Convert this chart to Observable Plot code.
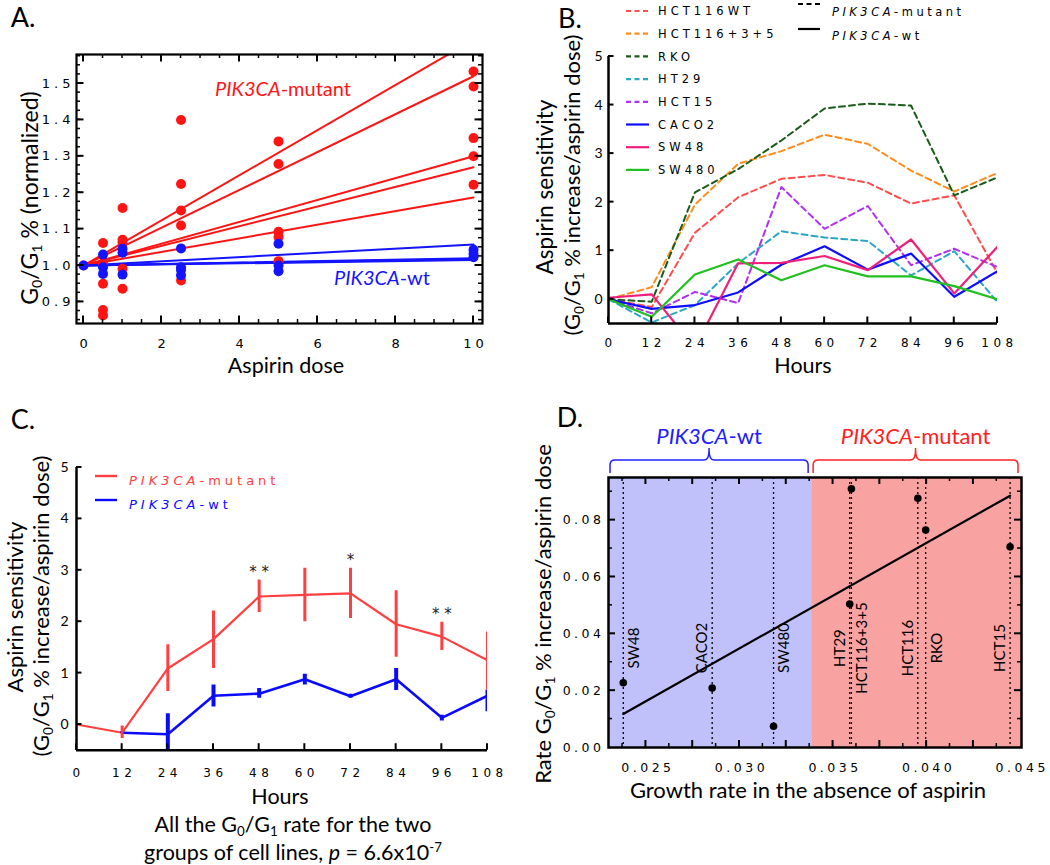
<!DOCTYPE html>
<html>
<head>
<meta charset="utf-8">
<script src="https://cdn.jsdelivr.net/npm/d3@7"></script>
<script src="https://cdn.jsdelivr.net/npm/@observablehq/plot@0.6"></script>
<style>
  html,body{margin:0;padding:0;background:#fff;}
  #root{position:relative;width:1050px;height:865px;overflow:hidden;font-family:Lato,"Open Sans",sans-serif;color:#000;}
  .panel{position:absolute;}
  .panel svg{overflow:visible;}
  .lbl{position:absolute;white-space:nowrap;line-height:1;transform-origin:center;}
  .lbl sub{font-size:0.62em;line-height:0;vertical-align:-0.3em;}
  .lbl sup{font-size:0.62em;line-height:0;vertical-align:0.65em;}
  #pA g[aria-label$="tick label"] text{letter-spacing:4px;}
  #pB g[aria-label="x-axis tick label"] text{letter-spacing:4.5px;}
  #pC g[aria-label="x-axis tick label"] text{letter-spacing:4.5px;}
  #pD g[aria-label$="tick label"] text{letter-spacing:3.5px;}
</style>
</head>
<body>
<div id="root"></div>
<script>
// ================= DATA =================
// Panel A: G0/G1 % (normalized) vs aspirin dose
const aDose = [0, 0.5, 1, 2.5, 5, 10];
const aMutantValues = [
  [1.0],
  [1.062, 1.006, 0.95, 0.878, 0.863],
  [1.158, 1.071, 1.062, 0.991, 0.936],
  [1.40, 1.224, 1.151, 1.11, 0.959],
  [1.341, 1.279, 1.093, 1.078, 1.012],
  [1.533, 1.492, 1.35, 1.30, 1.222]
];
const aWtValues = [
  [1.0],
  [1.03, 0.995, 0.977],
  [1.046, 1.035, 0.975],
  [1.047, 0.995, 0.988, 0.973],
  [1.06, 1.0, 0.984],
  [1.043, 1.032, 1.023]
];
const aMutantFitEnd = [1.62, 1.52, 1.30, 1.27, 1.187];
const aWtFitEnd = [1.058, 1.02, 1.018, 1.015];
const aXTicks = [0, 2, 4, 6, 8, 10];
const aYTicks = [0.9, 1.0, 1.1, 1.2, 1.3, 1.4, 1.5];

// Panel B: aspirin sensitivity per cell line over hours
const hours = [0, 12, 24, 36, 48, 60, 72, 84, 96, 108];
const bSeries = ["HCT116WT", "HCT116+3+5", "RKO", "HT29", "HCT15", "CACO2", "SW48", "SW480"];
const bMutant = [true, true, true, true, true, false, false, false];
const bColors = ["#ff4d4d", "#ff8c1a", "#1a5c1a", "#2aa6c8", "#b030f0", "#0d0dff", "#f0207a", "#20c020"];
const hct116wt  = [0, -0.16, 1.37, 2.10, 2.48, 2.56, 2.40, 1.97, 2.14, 0.53];
const hct116_35 = [0, 0.25, 1.95, 2.79, 3.05, 3.39, 3.20, 2.65, 2.22, 2.60];
const rko       = [0, -0.05, 2.20, 2.68, 3.27, 3.93, 4.03, 3.99, 2.14, 2.51];
const ht29      = [0, -0.48, -0.12, 0.74, 1.40, 1.27, 1.20, 0.49, 0.99, -0.06];
const hct15     = [0, -0.29, 0.15, -0.08, 2.31, 1.45, 1.92, 0.70, 1.04, 0.66];
const caco2     = [0, -0.20, -0.12, 0.14, 0.71, 1.09, 0.61, 0.94, 0.05, 0.58];
const sw48      = [0.03, 0.10, -1.0, 0.74, 0.75, 0.89, 0.60, 1.23, 0.12, 1.08];
const sw480     = [0, -0.36, 0.51, 0.82, 0.39, 0.70, 0.47, 0.47, 0.27, 0.0];
const bValues = [hct116wt, hct116_35, rko, ht29, hct15, caco2, sw48, sw480];
const bYTicks = [0, 1, 2, 3, 4, 5];

// Panel C: group means with error bars
const cMutMean = [0, -0.16, 1.09, 1.66, 2.49, 2.52, 2.55, 1.95, 1.71, 1.25];
const cMutLo   = [null, -0.27, 0.64, 1.09, 2.18, 2.00, 2.06, 1.31, 1.44, 0.67];
const cMutHi   = [null, -0.03, 1.55, 2.21, 2.81, 3.04, 3.04, 2.60, 1.99, 1.80];
const cWtMean  = [null, -0.16, -0.19, 0.56, 0.60, 0.88, 0.55, 0.88, 0.13, 0.56];
const cWtLo    = [null, -0.18, -0.60, 0.34, 0.51, 0.77, 0.51, 0.66, 0.07, 0.25];
const cWtHi    = [null, -0.14, 0.21, 0.77, 0.70, 0.98, 0.59, 1.09, 0.18, 0.67];
const cStarHours = [48, 72, 96];
const cStarText = ["* *", "*", "* *"];

// Panel D: rate vs growth rate
const dLines  = ["SW48", "CACO2", "SW480", "HT29", "HCT116+3+5", "HCT116", "RKO", "HCT15"];
const dGrowth = [0.02379, 0.02854, 0.03182, 0.03589, 0.03598, 0.03953, 0.03995, 0.04446];
const dRate   = [0.0228, 0.0209, 0.0075, 0.0505, 0.091, 0.0877, 0.0765, 0.0706];
const dLabelSide = [1, -1, 1, -1, 1, -1, 1, -1];
const dXTicks = [0.025, 0.030, 0.035, 0.040, 0.045];
const dYTicks = [0.00, 0.02, 0.04, 0.06, 0.08];

// ================= HELPERS =================
const root = document.getElementById("root");
function mount(id, left, top, node) {
  const d = document.createElement("div");
  d.className = "panel"; d.id = id;
  d.style.left = left + "px"; d.style.top = top + "px";
  d.appendChild(node); root.appendChild(d); return d;
}
function addLabel(html, cx, cy, opts = {}) {
  const {size = 20, rotate = 0, color = "#000", family = null} = opts;
  const el = document.createElement("div");
  el.className = "lbl";
  el.innerHTML = html;
  el.style.left = cx + "px";
  el.style.top = cy + "px";
  el.style.fontSize = size + "px";
  el.style.color = color;
  if (family) el.style.fontFamily = family;
  el.style.transform = `translate(-50%,-50%) rotate(${rotate}deg)`;
  root.appendChild(el);
}
// inward-pointing tick marks, positioned through the plot's own scales
function addTicks(plot, geom, anchor, ticks, size, sw = 1.5) {
  const svg = d3.select(plot);
  const left = geom.marginLeft, right = geom.width - geom.marginRight;
  const top = geom.marginTop, bottom = geom.height - geom.marginBottom;
  const horizontal = anchor === "bottom" || anchor === "top";
  const sc = plot.scale(horizontal ? "x" : "y");
  const g = svg.append("g").attr("stroke", "#000").attr("stroke-width", sw);
  ticks.forEach(t => {
    const p = sc.apply(t);
    if (anchor === "bottom") g.append("line").attr("x1", p).attr("x2", p).attr("y1", bottom).attr("y2", bottom - size);
    else if (anchor === "top") g.append("line").attr("x1", p).attr("x2", p).attr("y1", top).attr("y2", top + size);
    else if (anchor === "left") g.append("line").attr("y1", p).attr("y2", p).attr("x1", left).attr("x2", left + size);
    else g.append("line").attr("y1", p).attr("y2", p).attr("x1", right).attr("x2", right - size);
  });
}
const baseStyle = {fontFamily: "DejaVu Sans", fontSize: "12px", background: "transparent", color: "#000", overflow: "visible"};
function plotOpts(geom) {
  return {width: geom.width, height: geom.height, marginLeft: geom.marginLeft, marginRight: geom.marginRight,
    marginTop: geom.marginTop, marginBottom: geom.marginBottom, x: {domain: geom.x}, y: {domain: geom.y}, style: baseStyle};
}

// ================= PANEL A =================
const redA = "#ff1414", blueA = "#1414ff";
const aMutPts = aDose.flatMap((d, i) => aMutantValues[i].map(v => ({dose: d, v})));
const aWtPts = aDose.flatMap((d, i) => aWtValues[i].map(v => ({dose: d, v})));
const aStart = {dose: aDose[0], v: aMutantValues[0][0]};
const aEnd = aDose[aDose.length - 1];
const aMutFit = aMutantFitEnd.flatMap((v, k) => [{...aStart, k}, {dose: aEnd, v, k}]);
const aWtFit = aWtFitEnd.flatMap((v, k) => [{...aStart, k}, {dose: aEnd, v, k}]);
const aXMinor = d3.range(0.5, 10, 0.5);
const aYMinor = d3.range(0.85, 1.576, 0.025);
const geomA = {width: 520, height: 420, marginLeft: 76, marginRight: 38, marginTop: 54, marginBottom: 97, x: [-0.18, 10.23], y: [0.8407, 1.5797]};

const plotA = Plot.plot({
  ...plotOpts(geomA),
  marks: [
    Plot.line(aMutFit, {x: "dose", y: "v", z: "k", stroke: redA, strokeWidth: 2, clip: true}),
    Plot.line(aWtFit, {x: "dose", y: "v", z: "k", stroke: blueA, strokeWidth: 2, clip: true}),
    Plot.dot(aMutPts, {x: "dose", y: "v", r: 5, fill: redA}),
    Plot.dot(aWtPts, {x: "dose", y: "v", r: 5, fill: blueA}),
    Plot.frame({strokeWidth: 2.2}),
    Plot.axisX({ticks: aXTicks, tickSize: 0, tickPadding: 15, label: null, dx: 2, fontSize: 13}),
    Plot.axisY({ticks: aYTicks, tickSize: 0, tickPadding: 2, tickFormat: d3.format(".1f"), label: null, fontSize: 13})
  ]
});
for (const side of ["bottom", "top"]) { addTicks(plotA, geomA, side, aXTicks, 7.5, 2); addTicks(plotA, geomA, side, aXMinor, 4, 1.5); }
for (const side of ["left", "right"]) { addTicks(plotA, geomA, side, aYTicks, 7.5, 2); addTicks(plotA, geomA, side, aYMinor, 4, 1.5); }
mount("pA", 0, 0, plotA);

// ================= PANEL B =================
const bData = bSeries.flatMap((name, i) => hours.map((h, j) => ({name, h, v: bValues[i][j], mutant: bMutant[i]})));
const geomB = {width: 530, height: 420, marginLeft: 88, marginRight: 53, marginTop: 56, marginBottom: 97, x: [0, 108], y: [-0.5, 5]};
const plotB = Plot.plot({
  ...plotOpts(geomB),
  color: {domain: bSeries, range: bColors},
  marks: [
    Plot.line(bData.filter(d => d.mutant), {x: "h", y: "v", z: "name", stroke: "name", strokeWidth: 2, strokeDasharray: "6,4", clip: true}),
    Plot.line(bData.filter(d => !d.mutant), {x: "h", y: "v", z: "name", stroke: "name", strokeWidth: 2.2, clip: true}),
    Plot.ruleX([0], {strokeWidth: 2.5}),
    Plot.ruleY([-0.5], {x1: 0, x2: 108, strokeWidth: 2.5}),
    Plot.axisX({ticks: hours, tickSize: 0, tickPadding: 15, label: null, dx: 2, fontSize: 12}),
    Plot.axisY({ticks: bYTicks, tickSize: 0, tickPadding: 6, tickFormat: d3.format("d"), label: null, fontSize: 14, fontFamily: "Lato"})
  ]
});
addTicks(plotB, geomB, "bottom", hours, 6.5, 2);
addTicks(plotB, geomB, "left", bYTicks, 5.5, 2);
const divB = mount("pB", 520, 0, plotB);
// legend B
const legB = d3.select(divB).append("svg")
  .attr("width", 530).attr("height", 200)
  .style("position", "absolute").style("left", "0px").style("top", "0px").style("overflow", "visible");
bSeries.forEach((name, i) => {
  const y = 11 + i * 22.7;
  legB.append("line").attr("x1", 106).attr("x2", 129).attr("y1", y).attr("y2", y)
    .attr("stroke", bColors[i]).attr("stroke-width", 2.2)
    .attr("stroke-dasharray", bMutant[i] ? "5,3.5" : null);
  legB.append("text").attr("x", 138).attr("y", y).attr("dy", "0.36em")
    .attr("font-family", "DejaVu Sans").attr("font-size", 11.5).attr("letter-spacing", "4px")
    .text(name);
});
[["-mutant", true, 4, 12], ["-wt", false, 29, 36]].forEach(([suffix, dashed, ly, ty]) => {
  legB.append("line").attr("x1", 278).attr("x2", 300).attr("y1", ly).attr("y2", ly)
    .attr("stroke", "#000").attr("stroke-width", 2.2)
    .attr("stroke-dasharray", dashed ? "5,3.5" : null);
  const t = legB.append("text").attr("x", 312).attr("y", ty).attr("dy", "0.36em")
    .attr("font-family", "DejaVu Sans").attr("font-size", 11.5).attr("letter-spacing", "3.5px");
  t.append("tspan").attr("font-style", "italic").text("PIK3CA");
  t.append("tspan").text(suffix);
});

// ================= PANEL C =================
const redC = "#ff4040", blueC = "#0a0aff";
const cMut = hours.map((h, i) => ({h, v: cMutMean[i], lo: cMutLo[i], hi: cMutHi[i]}));
const cWt = hours.map((h, i) => ({h, v: cWtMean[i], lo: cWtLo[i], hi: cWtHi[i]})).filter(d => d.v != null);
const cStars = cStarHours.map((h, i) => ({h, text: cStarText[i], y: cMutHi[hours.indexOf(h)]}));
const geomC = {width: 520, height: 380, marginLeft: 76, marginRight: 33, marginTop: 47, marginBottom: 50.3, x: [0, 108], y: [-0.5, 5]};
const plotC = Plot.plot({
  ...plotOpts(geomC),
  marks: [
    Plot.line(cMut, {x: "h", y: "v", stroke: redC, strokeWidth: 2.2, clip: true}),
    Plot.line(cWt, {x: "h", y: "v", stroke: blueC, strokeWidth: 2.6, clip: true}),
    Plot.ruleX(cWt, {x: "h", y1: "lo", y2: "hi", stroke: blueC, strokeWidth: 4, clip: true}),
    Plot.ruleX(cMut.filter(d => d.lo != null), {x: "h", y1: "lo", y2: "hi", stroke: redC, strokeWidth: 3, clip: true}),
    Plot.text(cStars, {x: "h", y: "y", text: "text", dy: -3, lineAnchor: "bottom", fontSize: 15, fontFamily: "DejaVu Sans", fill: "#222"}),
    Plot.ruleX([0], {strokeWidth: 2.5}),
    Plot.ruleY([-0.5], {x1: 0, x2: 108, strokeWidth: 2.5}),
    Plot.axisX({ticks: hours, tickSize: 0, tickPadding: 18, label: null, dx: 2, fontSize: 12}),
    Plot.axisY({ticks: bYTicks, tickSize: 0, tickPadding: 8, tickFormat: d3.format("d"), label: null, fontSize: 14, fontFamily: "Lato"})
  ]
});
addTicks(plotC, geomC, "bottom", hours, 6.5, 2);
addTicks(plotC, geomC, "left", bYTicks, 5.5, 2);
const divC = mount("pC", 0, 420, plotC);
const legC = d3.select(divC).append("svg")
  .attr("width", 520).attr("height", 120)
  .style("position", "absolute").style("left", "0px").style("top", "0px").style("overflow", "visible");
[["-mutant", redC, 56], ["-wt", blueC, 80]].forEach(([suffix, col, y]) => {
  legC.append("line").attr("x1", 95).attr("x2", 117).attr("y1", y).attr("y2", y)
    .attr("stroke", col).attr("stroke-width", 2.4);
  const t = legC.append("text").attr("x", 129).attr("y", y + 4).attr("dy", "0.36em")
    .attr("font-family", "DejaVu Sans").attr("font-size", 13).attr("letter-spacing", "4px").attr("fill", col);
  t.append("tspan").attr("font-style", "italic").text("PIK3CA");
  t.append("tspan").text(suffix);
});

// ================= PANEL D =================
const dPts = dLines.map((name, i) => ({name, g: dGrowth[i], r: dRate[i], side: dLabelSide[i]}));
const geomD = {width: 530, height: 445, marginLeft: 88, marginRight: 29, marginTop: 57, marginBottom: 118, x: [0.023, 0.04507], y: [0, 0.095]};
const dBoundary = (dGrowth[2] + dGrowth[3]) / 2;
const dGroups = [
  {name: "PIK3CA-wt", x1: geomD.x[0], x2: dBoundary, fill: "#c0c0fa", stroke: "#2020ff", suffix: "-wt"},
  {name: "PIK3CA-mutant", x1: dBoundary, x2: geomD.x[1], fill: "#f9a2a2", stroke: "#ff2020", suffix: "-mutant"}
];
const dXMajor = d3.range(0.025, 0.0449, 0.0025);
const dXMinor = d3.range(0.02375, 0.0449, 0.0025);
const dYMinor = d3.range(0.01, 0.0951, 0.02);
const plotD = Plot.plot({
  ...plotOpts(geomD),
  color: {type: "identity"},
  marks: [
    Plot.rect(dGroups, {x1: "x1", x2: "x2", fill: "fill"}),
    Plot.ruleX(dPts, {x: "g", stroke: "#000", strokeWidth: 1.3, strokeDasharray: "2,3"}),
    Plot.linearRegressionY(dPts, {x: "g", y: "r", stroke: "#000", strokeWidth: 2.2, ci: 0}),
    Plot.dot(dPts, {x: "g", y: "r", r: 3.8, fill: "#000"}),
    Plot.text(dPts.filter(d => d.side > 0), {x: "g", y: () => 0.035, text: "name", rotate: -90, dx: 11, fontSize: 15, fontFamily: "Lato"}),
    Plot.text(dPts.filter(d => d.side < 0), {x: "g", y: () => 0.035, text: "name", rotate: -90, dx: -10, fontSize: 15, fontFamily: "Lato"}),
    Plot.frame({strokeWidth: 2.5}),
    Plot.axisX({ticks: dXTicks, tickSize: 0, tickPadding: 16, tickFormat: d3.format(".3f"), label: null, dx: 2, fontSize: 12.5}),
    Plot.axisY({ticks: dYTicks, tickSize: 0, tickPadding: 4, tickFormat: d3.format(".2f"), label: null, fontSize: 12.5})
  ]
});
for (const side of ["bottom", "top"]) { addTicks(plotD, geomD, side, dXMajor, 7, 2); addTicks(plotD, geomD, side, dXMinor, 4, 1.5); }
for (const side of ["left", "right"]) { addTicks(plotD, geomD, side, dYTicks.slice(1), 7, 2); addTicks(plotD, geomD, side, dYMinor, 4, 1.5); }
const divD = mount("pD", 520, 420, plotD);
const xsD = plotD.scale("x");
const svgD = d3.select(plotD);
dGroups.forEach(g => {
  const a = xsD.apply(g.x1) + 2, b = xsD.apply(g.x2) - 3, m = (a + b) / 2;
  const yEnd = 53, yBar = 40, yPeak = 28, c = 5;
  svgD.append("path")
    .attr("d", `M${a},${yEnd} L${a},${yBar + c} Q${a},${yBar} ${a + c},${yBar} L${m - c},${yBar} Q${m},${yBar} ${m},${yPeak + 2} L${m},${yPeak} M${m},${yPeak + 2} Q${m},${yBar} ${m + c},${yBar} L${b - c},${yBar} Q${b},${yBar} ${b},${yBar + c} L${b},${yEnd}`)
    .attr("fill", "none").attr("stroke", g.stroke).attr("stroke-width", 1.5);
  const t = svgD.append("text").attr("x", m).attr("y", 24).attr("text-anchor", "middle")
    .attr("font-family", "Lato").attr("font-size", 22).attr("fill", g.stroke);
  t.append("tspan").attr("font-style", "italic").text("PIK3CA");
  t.append("tspan").text(g.suffix);
});

// ================= TEXT LABELS =================
addLabel("A.", 23, 16, {size: 27});
addLabel("B.", 570, 17, {size: 27});
addLabel("C.", 23, 418, {size: 27});
addLabel("D.", 570, 416, {size: 27});

addLabel("Aspirin dose", 286, 366, {size: 21.5});
addLabel("G<sub>0</sub>/G<sub>1</sub> % (normalized)", 29, 198, {size: 23, rotate: -90});
addLabel("<i>PIK3CA</i>-mutant", 283, 88, {size: 20, color: redA});
addLabel("<i>PIK3CA</i>-wt", 382, 277, {size: 20, color: blueA});

addLabel("Hours", 803, 366, {size: 21.5});
addLabel("Aspirin sensitivity", 545, 187, {size: 22.5, rotate: -90});
addLabel("(G<sub>0</sub>/G<sub>1</sub> % increase/aspirin dose)", 572, 185, {size: 22, rotate: -90});

addLabel("Hours", 280, 797, {size: 21.5});
addLabel("All the G<sub>0</sub>/G<sub>1</sub> rate for the two", 293, 825, {size: 21.5});
addLabel("groups of cell lines, <i>p</i> = 6.6x10<sup>-7</sup>", 293, 853, {size: 21.5});
addLabel("Aspirin sensitivity", 15, 607, {size: 22, rotate: -90});
addLabel("(G<sub>0</sub>/G<sub>1</sub> % increase/aspirin dose)", 41, 606, {size: 22, rotate: -90});

addLabel("Growth rate in the absence of aspirin", 808, 790, {size: 22});
addLabel("Rate G<sub>0</sub>/G<sub>1</sub> % increase/aspirin dose", 543, 614, {size: 22, rotate: -90});
</script>
</body>
</html>
